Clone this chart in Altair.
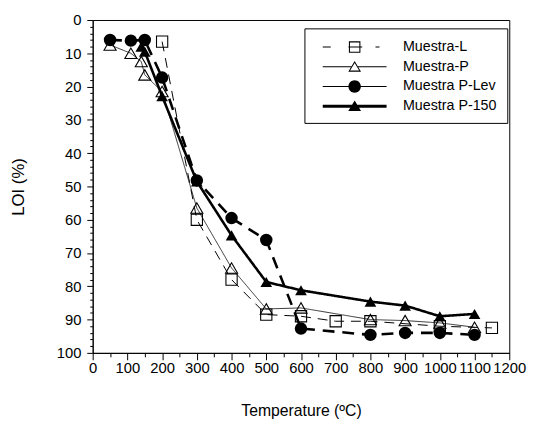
import altair as alt
import pandas as pd

names = ["Muestra-L", "Muestra-P", "Muestra P-Lev", "Muestra P-150"]

L_T = [200, 300, 400, 500, 600, 700, 800, 1000, 1150]
L_LOI = [6.5, 60, 78, 88.5, 89, 90.5, 90.5, 92, 92.5]

P_T = [50, 110, 140, 150, 200, 300, 400, 500, 600, 800, 900, 1000, 1100]
P_LOI = [7.5, 10, 12.5, 16.5, 21.5, 56.5, 74.5, 86.8, 86.5, 90, 90.3, 91, 92.3]

PLev_T = [50, 110, 150, 200, 300, 400, 500, 600, 800, 900, 1000, 1100]
PLev_LOI = [6, 6.2, 6, 17.3, 48.2, 59.5, 66.1, 92.7, 94.6, 94, 94, 94.6]

P150_T = [140, 150, 200, 300, 400, 500, 600, 800, 900, 1000, 1100]
P150_LOI = [8, 9.5, 22.9, 48.5, 64.7, 78.7, 81.2, 84.6, 85.8, 89, 88.3]

x_major = list(range(0, 1201, 100))
x_minor = list(range(50, 1201, 100))
y_major = list(range(0, 101, 10))
y_minor = [v for v in range(0, 101, 2) if v % 10 != 0]

series = [(names[0], L_T, L_LOI), (names[1], P_T, P_LOI),
          (names[2], PLev_T, PLev_LOI), (names[3], P150_T, P150_LOI)]
rows = []
for n, ts, vs in series:
    for t, v in zip(ts, vs):
        rows.append({"series": n, "T": t, "LOI": v})
df = pd.DataFrame(rows)

FONT = "Liberation Sans"

# legend symbol paths (unit = sqrt(size)/2)
def rect(x0, x1, h):
    return f"M{x0},{-h}H{x1}V{h}H{x0}Z"

def rect_ccw(x0, x1, h):
    return f"M{x0},{-h}V{h}H{x1}V{-h}Z"

t = 0.06
sq = rect(-0.65, 0.65, 0.65) + rect_ccw(-0.53, 0.53, 0.53)
path_L = rect(-3.6, -2.7, t) + sq + rect(-0.7, 0.85, t) + rect(2.35, 2.8, t)
tri_ring = "M0,-0.65L0.72,0.55L-0.72,0.55Z" + "M0,-0.42L-0.51,0.43L0.51,0.43Z"
path_P = rect(-3.6, -0.38, t) + tri_ring + rect(0.38, 3.6, t)
circ = "M0.7,0A0.7,0.7 0 1,1 -0.7,0A0.7,0.7 0 1,1 0.7,0Z"
path_PLev = rect(-3.6, -0.6, t) + circ + rect(0.6, 3.6, t)
tri = "M0,-0.65L0.72,0.55L-0.72,0.55Z"
path_P150 = rect(-3.6, -0.3, 0.17) + tri + rect(0.3, 3.6, 0.17)
paths = [path_L, path_P, path_PLev, path_P150]

xscale = alt.Scale(domain=[0, 1200], nice=False, zero=False)
yscale = alt.Scale(domain=[0, 100], reverse=True, nice=False, zero=False)

x_main = alt.X("T:Q", title="Temperature (ºC)", scale=xscale,
               axis=alt.Axis(values=x_major, tickSize=7, labelPadding=1, titlePadding=28,
                             titleFontSize=16, labelOverlap=False, labelFlush=False,
                             format="d", orient="bottom"))
y_main = alt.Y("LOI:Q", title="LOI (%)", scale=yscale,
               axis=alt.Axis(values=y_major, tickSize=6, labelPadding=6, titlePadding=29,
                             labelOverlap=False, labelFlush=False, format="d", orient="left"))
x_minor_enc = alt.X("T:Q", scale=xscale,
                    axis=alt.Axis(values=x_minor, tickSize=4, labels=False, domain=False,
                                  title=None, orient="bottom"))
y_minor_enc = alt.Y("LOI:Q", scale=yscale,
                    axis=alt.Axis(values=y_minor, tickSize=3, labels=False, domain=False,
                                  title=None, orient="left"))
x_plain = alt.X("T:Q", scale=xscale, axis=None)
y_plain = alt.Y("LOI:Q", scale=yscale, axis=None)

base = alt.Chart(df)

line_style = {
    names[0]: dict(strokeWidth=1.0, strokeDash=[10, 7]),
    names[1]: dict(strokeWidth=0.8, strokeDash=[1, 0]),
    names[2]: dict(strokeWidth=2.6, strokeDash=[12, 8]),
    names[3]: dict(strokeWidth=2.6, strokeDash=[1, 0]),
}
marker_style = {
    names[0]: dict(shape="square", filled=False, size=130),
    names[1]: dict(shape="triangle-up", filled=False, size=150),
    names[2]: dict(shape="circle", filled=True, size=160),
    names[3]: dict(shape="triangle-up", filled=True, size=140),
}

layers = []
for i, n in enumerate(names):
    ls = line_style[n]
    enc = dict(x=x_main, y=y_main) if i == 0 else dict(x=x_plain, y=y_plain)
    layers.append(
        base.transform_filter(alt.datum.series == n).mark_line(
            color="black", strokeWidth=ls["strokeWidth"], strokeDash=ls["strokeDash"]
        ).encode(**enc)
    )
for n in names:
    st = marker_style[n]
    layers.append(
        base.transform_filter(alt.datum.series == n).mark_point(
            shape=st["shape"], filled=st["filled"], size=st["size"],
            color="black", opacity=1, strokeWidth=1.1
        ).encode(x=x_plain, y=y_plain)
    )

legend_layer = base.mark_point(filled=True, color="black", opacity=1, size=0).encode(
    x=x_minor_enc, y=y_minor_enc,
    shape=alt.Shape("series:N", scale=alt.Scale(domain=names, range=paths),
                    legend=alt.Legend(title=None, orient="none", legendX=215, legendY=8.5,
                                      symbolSize=324, symbolOffset=32, labelOffset=40,
                                      padding=10, rowPadding=4, strokeColor="black",
                                      fillColor="white", labelFont=FONT, labelFontSize=14.5,
                                      labelColor="black", symbolStrokeWidth=0,
                                      symbolFillColor="black", labelLimit=300)),
)
layers.append(legend_layer)

chart = alt.layer(*layers).resolve_axis(x="independent", y="independent").properties(
    width=423, height=338,
    autosize=alt.AutoSizeParams(type="none"),
    padding={"left": 86, "top": 9, "right": 18, "bottom": 66},
).configure_view(stroke="black", strokeWidth=1).configure_axis(
    grid=False, domainColor="black", tickColor="black", labelColor="black",
    titleColor="black", labelFont=FONT, titleFont=FONT, labelFontSize=15,
    titleFontSize=17, titleFontWeight="normal", domainWidth=1, tickWidth=1,
)

chart.save("out.html", embed_options={"renderer": "svg", "actions": False})
